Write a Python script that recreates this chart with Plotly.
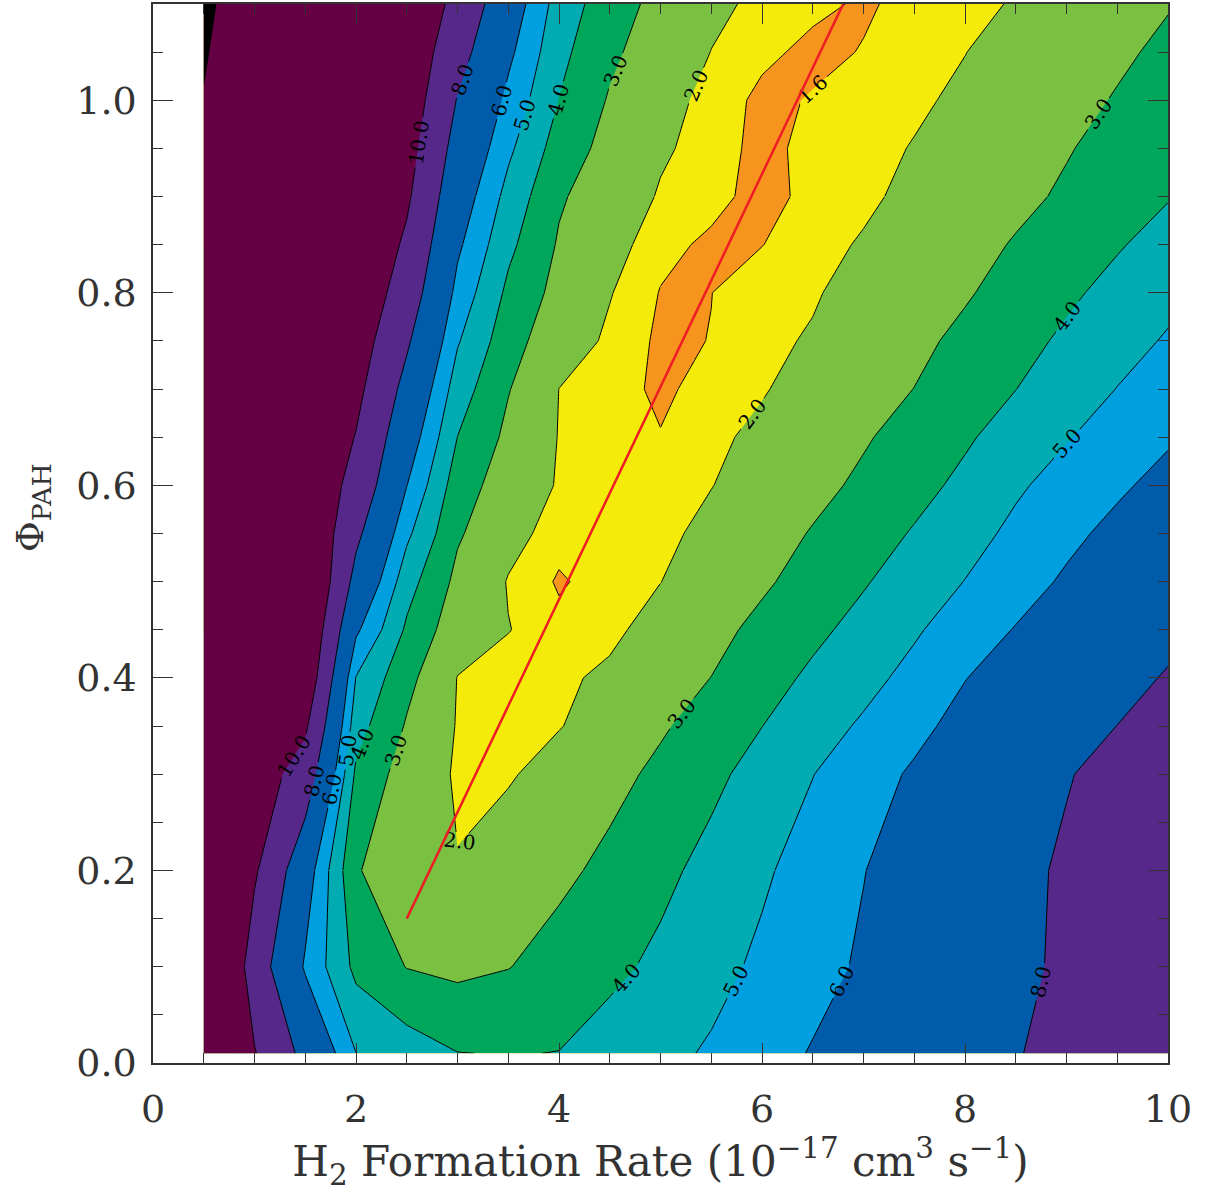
import plotly.graph_objects as go

# grid of the model (x: H2 formation rate, y: PAH fraction)
x_vals = [0.5, 1.0, 1.5, 2.0, 2.5, 3.0, 3.5, 4.0, 4.5, 5.0,
          5.5, 6.0, 6.5, 7.0, 7.5, 8.0, 8.5, 9.0, 9.5, 10.0]
y_vals = [0.01, 0.1, 0.2, 0.3, 0.35, 0.4, 0.45, 0.5, 0.55, 0.6,
          0.65, 0.7, 0.75, 0.8, 0.85, 0.9, 0.95, 1.0, 1.05, 1.1]

row_001 = [14.0, 10.1, 7.48, 5.01, 4.5, 4.02, 3.96, 4.02, 4.43, 4.75, 5.11, 5.59, 6.07, 6.53, 7.0, 7.46, 7.92, 8.44, 8.97, 9.5]
row_010 = [14.0, 9.0, 5.85, 3.75, 2.97, 2.77, 2.97, 3.37, 3.77, 4.21, 4.70, 5.18, 5.65, 6.14, 6.66, 7.18, 7.70, 8.23, 8.76, 9.3]
row_020 = [12.5, 10.25, 6.67, 3.06, 2.52, 2.03, 2.41, 2.79, 3.23, 3.76, 4.3, 4.86, 5.41, 5.97, 6.53, 7.09, 7.65, 8.19, 8.70, 9.2]
row_030 = [12.5, 11.1, 9.11, 3.81, 2.54, 1.91, 1.93, 2.28, 2.72, 3.20, 3.77, 4.37, 4.98, 5.56, 6.14, 6.73, 7.33, 7.92, 8.42, 8.9]
row_035 = [13.0, 11.55, 10.3, 4.39, 2.91, 1.95, 1.9, 1.97, 2.3, 2.89, 3.39, 3.99, 4.58, 5.13, 5.72, 6.35, 6.93, 7.49, 8.01, 8.5]
row_040 = [13.5, 12.0, 11.5, 4.96, 3.28, 1.98, 1.77, 1.88, 2.13, 2.57, 3.01, 3.61, 4.18, 4.70, 5.29, 5.97, 6.52, 7.06, 7.6, 8.1]
row_045 = [14.0, 12.4, 12.0, 6.2, 3.84, 2.4, 2.02, 1.72, 1.85, 2.28, 2.72, 3.24, 3.78, 4.31, 4.88, 5.50, 6.05, 6.60, 7.15, 7.68]
row_050 = [14.5, 12.8, 12.5, 7.43, 4.4, 2.75, 1.96, 1.55, 1.78, 1.99, 2.43, 2.86, 3.37, 3.92, 4.47, 5.02, 5.58, 6.14, 6.70, 7.25]
row_055 = [15.0, 13.2, 12.1, 8.38, 5.21, 3.12, 2.23, 1.75, 1.72, 1.82, 2.21, 2.61, 3.06, 3.55, 4.08, 4.63, 5.22, 5.76, 6.27, 6.79]
row_060 = [15.5, 13.6, 11.7, 9.33, 6.02, 3.48, 2.5, 1.94, 1.70, 1.81, 1.98, 2.35, 2.74, 3.17, 3.68, 4.23, 4.86, 5.37, 5.84, 6.32]
row_065 = [16.0, 14.05, 12.1, 9.92, 6.73, 3.99, 2.78, 1.97, 1.74, 1.62, 1.87, 2.15, 2.51, 2.91, 3.35, 3.87, 4.43, 4.94, 5.43, 5.88]
row_070 = [16.5, 14.5, 12.5, 10.5, 7.44, 4.5, 3.05, 1.995, 1.77, 1.52, 1.75, 1.95, 2.27, 2.64, 3.01, 3.50, 3.99, 4.51, 5.02, 5.43]
row_075 = [17.0, 15.0, 13.0, 11.0, 8.24, 5.09, 3.42, 2.34, 1.90, 1.52, 1.61, 1.89, 2.05, 2.42, 2.79, 3.21, 3.67, 4.17, 4.66, 5.09]
row_080 = [17.5, 15.5, 13.5, 11.5, 9.04, 5.67, 3.79, 2.68, 2.03, 1.58, 1.595, 1.82, 1.95, 2.20, 2.56, 2.91, 3.35, 3.83, 4.29, 4.75]
row_085 = [18.0, 16.0, 13.95, 11.95, 9.67, 6.2, 4.23, 2.9, 2.23, 1.72, 1.52, 1.59, 1.84, 2.05, 2.35, 2.69, 3.07, 3.48, 3.92, 4.35]
row_090 = [18.5, 16.5, 14.4, 12.4, 10.3, 6.73, 4.67, 3.12, 2.43, 1.94, 1.73, 1.45, 1.72, 1.90, 2.14, 2.46, 2.78, 3.13, 3.54, 3.95]
row_095 = [19.2, 17.1, 14.95, 12.85, 10.75, 7.32, 5.2, 3.55, 2.67, 2.09, 1.78, 1.48, 1.72, 1.84, 2.03, 2.29, 2.61, 2.94, 3.30, 3.67]
row_100 = [19.9, 17.7, 15.5, 13.3, 11.2, 7.91, 5.72, 3.98, 2.91, 2.23, 1.83, 1.5, 1.63, 1.77, 1.91, 2.11, 2.43, 2.74, 3.06, 3.38]
row_105 = [20.25, 17.95, 15.75, 13.6, 11.48, 8.68, 6.25, 4.27, 3.19, 2.47, 1.99, 1.69, 1.5, 1.62, 1.81, 1.99, 2.24, 2.54, 2.86, 3.17]
row_110 = [20.6, 18.2, 16.0, 13.9, 11.75, 9.44, 6.77, 4.56, 3.46, 2.70, 2.14, 1.87, 1.69, 1.55, 1.71, 1.87, 2.04, 2.34, 2.65, 2.95]

z_rows = [row_001, row_010, row_020, row_030, row_035, row_040, row_045,
          row_050, row_055, row_060, row_065, row_070, row_075, row_080,
          row_085, row_090, row_095, row_100, row_105, row_110]

# contour levels and the colour of the band above each level
levels = [1.6, 2.0, 3.0, 4.0, 5.0, 6.0, 8.0, 10.0, 20.0]
band_colors = ["#F5EB0A", "#7AC142", "#00A65A", "#00ACB2", "#009FDF",
               "#005BAA", "#55288A", "#660044", "#000000"]
lowest_color = "#F7941E"
line_levels = [1.6, 2.0, 3.0, 4.0, 5.0, 6.0, 8.0, 10.0]

# best-fit line
fit_x = [2.5, 6.8]
fit_y = [0.15, 1.1]

# where the contour lines are drawn and which of them carry labels
# (row index range, column index range, labelled levels, drawn levels)
ALL = line_levels
label_windows = [
    ((0, 2), (0, 7), [], ALL),
    ((0, 2), (7, 19), [4.0, 5.0, 6.0, 8.0], ALL),
    ((2, 6), (0, 7), [10.0, 8.0, 6.0, 5.0, 4.0, 3.0, 2.0], ALL),
    ((2, 6), (7, 19), [3.0], ALL),
    ((6, 14), (0, 9), [], ALL),
    ((14, 15), (0, 9), [], [1.6, 2.0, 3.0, 4.0, 5.0, 6.0, 8.0]),
    ((6, 15), (9, 15), [2.0], ALL),
    ((6, 15), (15, 19), [4.0, 5.0], ALL),
    ((15, 19), (0, 15), [8.0, 6.0, 5.0, 4.0, 3.0, 2.0, 1.6], [1.6, 2.0, 3.0, 4.0, 5.0, 6.0, 8.0]),
    ((14, 19), (0, 5), [10.0], [10.0]),
    ((15, 19), (15, 19), [3.0], ALL),
]

FONT = "DejaVu Serif"
AX = "#333333"

fig = go.Figure()

# base band (below 1.6)
fig.add_trace(go.Contour(
    x=x_vals, y=y_vals, z=z_rows,
    colorscale=[[0, lowest_color], [1, lowest_color]],
    contours=dict(coloring="fill", showlines=False),
    line=dict(width=0, smoothing=0), showscale=False, hoverinfo="skip"))

# each band above a level painted on top ("<" shades the part above the value)
for lev, col in zip(levels, band_colors):
    fig.add_trace(go.Contour(
        x=x_vals, y=y_vals, z=z_rows,
        contours=dict(type="constraint", operation="<", value=lev),
        fillcolor=col, line=dict(width=0, color=col, smoothing=0),
        showscale=False, hoverinfo="skip"))

# contour lines (with labels where wanted), drawn window by window
for (r0, r1), (c0, c1), lab, drawn in label_windows:
    sub_x = x_vals[c0:c1 + 1]
    sub_y = y_vals[r0:r1 + 1]
    sub_z = [row[c0:c1 + 1] for row in z_rows[r0:r1 + 1]]
    for lev in drawn:
        fig.add_trace(go.Contour(
            x=sub_x, y=sub_y, z=sub_z,
            autocontour=False,
            contours=dict(coloring="none", start=lev, end=lev, size=1,
                          showlabels=lev in lab, labelformat=".1f",
                          labelfont=dict(family=FONT, size=20, color="black")),
            line=dict(color="black", width=1, smoothing=0),
            showscale=False, hoverinfo="skip"))

fig.add_trace(go.Scatter(x=fit_x, y=fit_y, mode="lines",
                         line=dict(color="#EE1C24", width=2.5),
                         showlegend=False, hoverinfo="skip"))

axis_common = dict(
    showgrid=False, zeroline=False, showline=True, linecolor=AX,
    linewidth=1.5, mirror="ticks", ticks="inside", ticklen=20, tickwidth=1,
    tickcolor=AX,
    tickfont=dict(family=FONT, size=38, color=AX),
)

fig.update_xaxes(range=[0, 10], dtick=2, tick0=0,
                 minor=dict(dtick=0.5, ticks="inside", ticklen=10, tickcolor=AX),
                 title=dict(text="H<sub>2</sub> Formation Rate (10<sup>\u221217</sup> cm<sup>3</sup> s<sup>\u22121</sup>)",
                            font=dict(family=FONT, size=42, color=AX), standoff=5),
                 ticklabelstandoff=12,
                 **axis_common)
fig.update_yaxes(range=[0, 1.1], dtick=0.2, tick0=0, tickformat=".1f",
                 minor=dict(dtick=0.05, ticks="inside", ticklen=10, tickcolor=AX),
                 ticklabelstandoff=7,
                 **axis_common)

fig.add_annotation(text="\u03a6<sub>PAH</sub>", xref="paper", yref="paper",
                   x=-0.119, y=0.524, textangle=-90, showarrow=False,
                   xanchor="center", yanchor="middle",
                   font=dict(family=FONT, size=38, color=AX))

fig.update_layout(width=1207, height=1193,
                  margin=dict(l=153, r=39, t=2, b=130),
                  plot_bgcolor="white", paper_bgcolor="white",
                  showlegend=False)

fig.write_html("out.html", config={"displayModeBar": False},
               post_script="document.body.style.margin='0';document.body.style.padding='0';document.body.style.overflow='hidden';")
